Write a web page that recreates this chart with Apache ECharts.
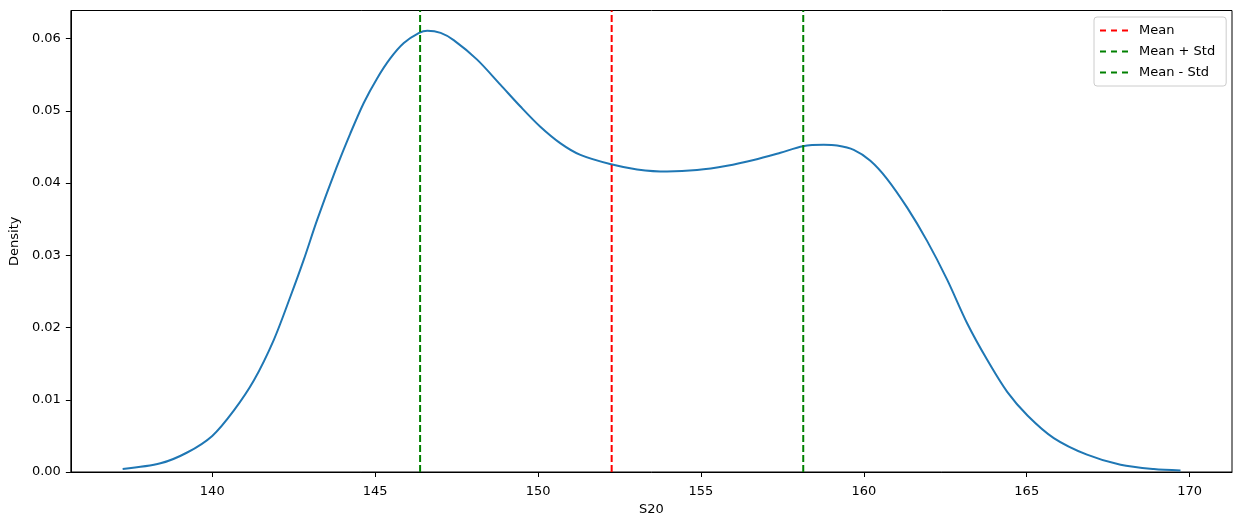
<!DOCTYPE html>
<html>
<head>
<meta charset="utf-8">
<script src="https://cdn.jsdelivr.net/npm/echarts@6/dist/echarts.min.js"></script>
<style>
html,body{margin:0;padding:0;background:#fff;}
#c{width:1242px;height:525px;}
</style>
</head>
<body>
<div id="c"></div>
<script>
// KDE curve
const kdeX = [137.25,138.41,139.23,140.00,140.66,141.28,141.89,142.40,142.81,143.22,143.81,144.24,144.65,145.06,145.47,145.88,146.35,146.60,147.01,147.41,148.13,148.85,149.46,150.07,150.69,151.30,152.24,153.04,153.96,154.88,155.80,156.62,157.44,158.13,158.77,159.18,159.69,160.20,160.71,161.33,161.94,162.56,163.17,163.79,164.40,165.03,165.83,166.85,167.88,168.90,169.72];
const kdeY = [0.0004,0.0012,0.0027,0.0050,0.0085,0.0127,0.0183,0.0243,0.0294,0.0349,0.0421,0.0469,0.0511,0.0545,0.0573,0.0594,0.0608,0.0611,0.0608,0.0598,0.0571,0.0536,0.0506,0.0478,0.0455,0.0439,0.0426,0.0419,0.0416,0.0418,0.0424,0.0432,0.0442,0.0451,0.0453,0.0452,0.0446,0.0431,0.0406,0.0366,0.0320,0.0266,0.0206,0.0155,0.0111,0.0078,0.0047,0.0024,0.0010,0.0004,0.0002];
const meanVal = 152.26;
const stdVal = 5.88;
const xTicks = [140,145,150,155,160,165,170];
const yTicks = [0,0.01,0.02,0.03,0.04,0.05,0.06];
const xMin = 135.66, xMax = 171.30;
const yMin = 0, yMax = 0.0639;

const kdeData = kdeX.map((x,i)=>[x,kdeY[i]]);
const vline = v => [[v,yMin],[v,yMax]];
const font = 'DejaVu Sans';
const dash = [7,3];
const dashIcon = 'path://M0,0h6v2h-6z M11,0h6v2h-6z M22,0h6v2h-6z';

const chart = echarts.init(document.getElementById('c'), null, {renderer:'canvas'});
chart.setOption({
  animation:false,
  backgroundColor:'#fff',
  textStyle:{fontFamily:font},
  grid:{left:70, right:10, top:10.5, bottom:53, show:true, borderColor:'#000', borderWidth:1, backgroundColor:'transparent'},
  legend:{
    orient:'vertical', left:1094, top:17,
    data:[{name:'Mean', icon:dashIcon},{name:'Mean + Std', icon:dashIcon},{name:'Mean - Std', icon:dashIcon}],
    itemWidth:28, itemHeight:2, itemGap:6,
    padding:[6,11,6,6],
    backgroundColor:'rgba(255,255,255,0.8)',
    borderColor:'#cccccc', borderWidth:1, borderRadius:3,
    textStyle:{fontFamily:font, fontSize:13, color:'#000', lineHeight:15, padding:[0,0,0,6]}
  },
  xAxis:{
    type:'value', min:xMin, max:xMax,
    name:'S20', nameLocation:'middle', nameGap:30,
    nameTextStyle:{fontFamily:font, fontSize:13, color:'#000'},
    splitLine:{show:false},
    axisLine:{show:true, onZero:false, lineStyle:{color:'#000', width:1}},
    axisTick:{show:true, inside:false, length:5, lineStyle:{color:'#000'}, customValues:xTicks},
    axisLabel:{fontFamily:font, fontSize:13, color:'#000', margin:13, customValues:xTicks, formatter:v=>String(v)}
  },
  yAxis:{
    type:'value', min:yMin, max:yMax,
    name:'Density', nameLocation:'middle', nameGap:49, nameRotate:90,
    nameTextStyle:{fontFamily:font, fontSize:13, color:'#000'},
    splitLine:{show:false},
    axisLine:{show:true, lineStyle:{color:'#000', width:1}},
    axisTick:{show:true, inside:false, length:5, lineStyle:{color:'#000'}, customValues:yTicks},
    axisLabel:{fontFamily:font, fontSize:13, color:'#000', margin:10, customValues:yTicks, formatter:v=>v.toFixed(2)}
  },
  series:[
    {type:'line', name:'KDE', data:kdeData, smooth:0.3, showSymbol:false, symbol:'none',
     lineStyle:{color:'#1f77b4', width:2}, itemStyle:{color:'#1f77b4'}, z:2},
    {type:'line', name:'Mean', data:vline(meanVal), showSymbol:false, symbol:'none',
     lineStyle:{color:'#ff0000', width:2, type:dash}, itemStyle:{color:'#ff0000'}, z:3},
    {type:'line', name:'Mean + Std', data:vline(meanVal+stdVal), showSymbol:false, symbol:'none',
     lineStyle:{color:'#008000', width:2, type:dash}, itemStyle:{color:'#008000'}, z:3},
    {type:'line', name:'Mean - Std', data:vline(meanVal-stdVal), showSymbol:false, symbol:'none',
     lineStyle:{color:'#008000', width:2, type:dash}, itemStyle:{color:'#008000'}, z:3}
  ]
});
</script>
</body>
</html>
